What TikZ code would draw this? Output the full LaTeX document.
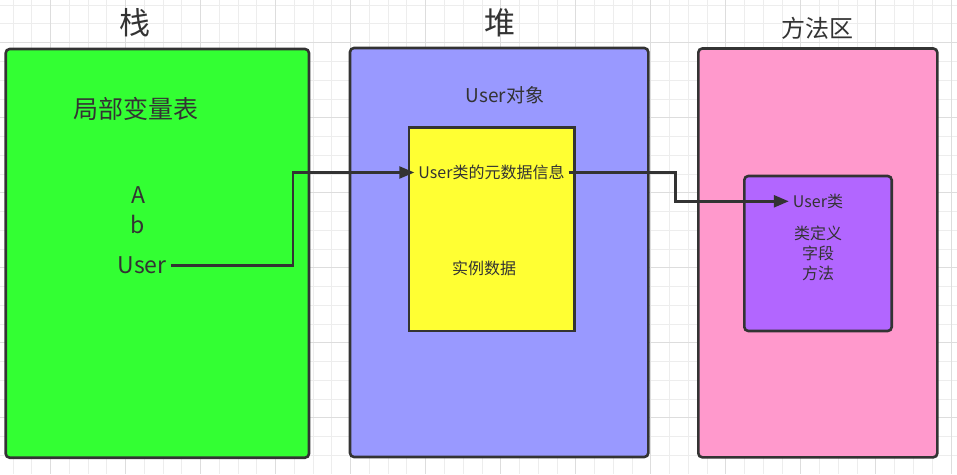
\documentclass[tikz,border=0pt]{standalone}
\usepackage{fontspec}
\usepackage{tikz}
\usepackage{xcolor}
\usetikzlibrary{arrows.meta,positioning,calc}
\newfontfamily\cjk{Noto Sans CJK SC}
\definecolor{ink}{HTML}{333333}
\definecolor{gridminor}{HTML}{EDEDED}
\definecolor{gridmajor}{HTML}{DDDDDD}
\definecolor{stackbg}{HTML}{33FF33}
\definecolor{heapbg}{HTML}{9999FF}
\definecolor{methodbg}{HTML}{FF99CC}
\definecolor{objbg}{HTML}{FFFF33}
\definecolor{classbg}{HTML}{B266FF}

\begin{document}
\begin{tikzpicture}[x=1pt,y=-1pt,
    area/.style={draw=ink,line width=2.6pt,rounded corners=4pt,anchor=north west,
                 outer sep=0pt,inner sep=0pt},
    lbl/.style={text=ink,inner sep=4pt},
    link/.style={draw=ink,line width=2.5pt,-{Triangle[length=15pt,width=12pt]}}]
  \useasboundingbox[fill=white] (0,0) rectangle (957,474);
  % background grid
  \foreach \i in {0,...,50}
    \draw[gridminor,line width=1pt] (13+18.76*\i,0) -- (13+18.76*\i,474);
  \foreach \j in {0,...,24}
    \draw[gridminor,line width=1pt] (0,5.2+18.76*\j) -- (957,5.2+18.76*\j);
  \foreach \i in {2,6,...,50}
    \draw[gridmajor,line width=1pt] (13+18.76*\i,0) -- (13+18.76*\i,474);
  \foreach \j in {2,6,...,22}
    \draw[gridmajor,line width=1pt] (0,5.2+18.76*\j) -- (957,5.2+18.76*\j);

  % the three memory areas
  \node[area,fill=stackbg,minimum width=303.3pt,minimum height=408.7pt] (stack) at (5.7,49) {};
  \node[area,fill=heapbg,minimum width=298.3pt,minimum height=409pt] (heap) at (350,48) {};
  \node[area,fill=methodbg,minimum width=239pt,minimum height=408.8pt] (method) at (698.3,48.5) {};
  \node[area,fill=objbg,rounded corners=0pt,minimum width=165.3pt,minimum height=203.7pt] (obj) at (409,127.3) {};
  \node[area,fill=classbg,minimum width=147.4pt,minimum height=155pt] (cls) at (744.3,176) {};

  % titles
  \node[lbl,font=\cjk\fontsize{31}{36}\selectfont] (stacktitle) at (135,23) {栈};
  \node[lbl,font=\cjk\fontsize{31}{36}\selectfont] (heaptitle) at (500,23) {堆};
  \node[lbl,font=\cjk\fontsize{24}{28}\selectfont] (methodtitle) at (817,28) {方法区};

  % stack frame
  \node[lbl,font=\cjk\fontsize{25}{30}\selectfont] (vartable) at (135.5,109) {局部变量表};
  \node[lbl,font=\cjk\fontsize{23}{28}\selectfont] (vara) at (138,195.5) {A};
  \node[lbl,font=\cjk\fontsize{23}{28}\selectfont] (varb) at (138,224.5) {b};
  \node[lbl,font=\cjk\fontsize{23}{28}\selectfont] (user) at (142,265.5) {User};

  % heap object
  \node[lbl,font=\cjk\fontsize{19}{24}\selectfont] (objtitle) at (505,95) {User对象};
  \node[lbl,font=\cjk\fontsize{16}{20}\selectfont] (meta) at (491.5,172.5) {User类的元数据信息};
  \node[lbl,font=\cjk\fontsize{16}{20}\selectfont] (instdata) at (484,268.3) {实例数据};

  % class in method area
  \node[lbl,font=\cjk\fontsize{16}{20}\selectfont] (clsname) at (818,201.3) {User类};
  \node[lbl,font=\cjk\fontsize{16}{20}\selectfont,align=center] (clsbody) at (818,253.3)
    {类定义\\字段\\方法};

  % references
  \draw[link] (user.east) -- ++(122.5,0) |- (meta.west);
  \draw[link] (meta.east) -- ++(107,0) |- (clsname.west);
\end{tikzpicture}
\end{document}
